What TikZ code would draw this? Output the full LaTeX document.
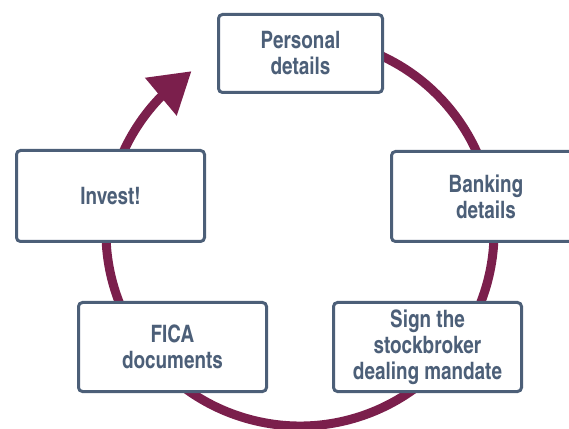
\documentclass[tikz,border=0pt]{standalone}
\usepackage{fontspec}
\setmainfont{texgyreheroscn-bold.otf}[FakeStretch=0.96]
\usetikzlibrary{arrows.meta,bending}
\definecolor{ringc}{RGB}{123,31,76}
\definecolor{boxc}{RGB}{76,95,120}
\tikzset{
  stepbox/.style={draw=boxc, line width=3pt, fill=white, rounded corners=4pt,
    text=boxc, align=center, inner sep=0pt,
    font=\fontsize{24}{26}\selectfont},
  ringline/.style={draw=ringc, line width=9pt}
}
\begin{document}
\begin{tikzpicture}[x=1pt,y=1pt]
\useasboundingbox (0,0) rectangle (569,428);
\coordinate (c) at (300,196);
\draw[ringline, -{Triangle[width=47pt,length=40pt]}] (c) ++(75:194) arc[start angle=75, end angle=-236, radius=194];
\node[stepbox, minimum width=164pt, minimum height=78pt] (pers) at (300.5,374.5) {Personal\\details};
\node[stepbox, minimum width=189pt, minimum height=90pt] (bank) at (486,231.5) {Banking\\details};
\node[stepbox, minimum width=188pt, minimum height=91pt] (inv) at (110.5,232) {Invest!};
\node[stepbox, minimum width=188pt, minimum height=89pt] (fica) at (172.5,81) {FICA\\documents};
\node[stepbox, minimum width=188pt, minimum height=89pt] (sign) at (427.5,81) {Sign the\\stockbroker\\dealing mandate};
\end{tikzpicture}
\end{document}
